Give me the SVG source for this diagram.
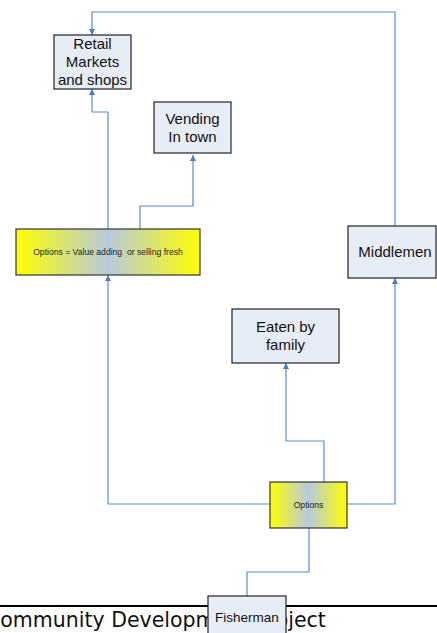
<svg xmlns="http://www.w3.org/2000/svg" width="437" height="633" viewBox="0 0 437 633">
<defs>
<linearGradient id="yg" x1="0" y1="0" x2="1" y2="0">
<stop offset="0" stop-color="#FFFF00"/>
<stop offset="0.5" stop-color="#B7C9DD"/>
<stop offset="1" stop-color="#FFFF00"/>
</linearGradient>
<marker id="arr" viewBox="0 0 10 10" refX="10" refY="5" markerWidth="6" markerHeight="6" orient="auto" markerUnits="userSpaceOnUse">
<path d="M0,0 L10,5 L0,10 z" fill="#4A7CCB"/>
</marker>
<style>
.box{fill:#E7EDF7;stroke:#222;stroke-width:1.2}
.ybox{fill:url(#yg);stroke:#333;stroke-width:1.2}
.t{font-family:"Liberation Sans",Arial,sans-serif;font-size:15px;fill:#111;text-anchor:middle}
.s{font-family:"Liberation Sans",Arial,sans-serif;font-size:8.6px;fill:#222;text-anchor:middle}
.c{fill:none;stroke:#5B8AD6;stroke-width:1.2}
</style>
</defs>
<rect width="437" height="633" fill="#fff"/>
<g id="footer">
<text x="-14" y="627" font-family="DejaVu Sans,sans-serif" font-size="20.5" fill="#111">Community Development Project</text>
<line x1="0" y1="606" x2="437" y2="606" stroke="#000" stroke-width="2"/>
</g>
<g id="connectors">
<path class="c" d="M395,226 V12 H92 V35" marker-end="url(#arr)"/>
<path class="c" d="M108,229 V112 H92 V89" marker-end="url(#arr)"/>
<path class="c" d="M140,229 V206 H193 V155" marker-end="url(#arr)"/>
<path class="c" d="M270,504 H108 V275" marker-end="url(#arr)"/>
<path class="c" d="M324,482 V441 H286 V363" marker-end="url(#arr)"/>
<path class="c" d="M347,504 H395 V278" marker-end="url(#arr)"/>
<path class="c" d="M247,596 V572 H309 V528"/>
</g>
<g id="retail">
<rect class="box" x="54" y="35" width="77" height="54"/>
<text class="t" x="92.5" y="49">Retail</text>
<text class="t" x="92.5" y="67">Markets</text>
<text class="t" x="92.5" y="85">and shops</text>
</g>
<g id="vending">
<rect class="box" x="154" y="102" width="77" height="51"/>
<text class="t" x="192.5" y="124">Vending</text>
<text class="t" x="192.5" y="142">In town</text>
</g>
<g id="options1">
<rect class="ybox" x="16" y="229" width="184" height="46"/>
<text class="s" x="108" y="255" xml:space="preserve">Options = Value adding  or selling fresh</text>
</g>
<g id="middlemen">
<rect class="box" x="348" y="226" width="88" height="52"/>
<text class="t" x="395" y="257">Middlemen</text>
</g>
<g id="eaten">
<rect class="box" x="232" y="309" width="107" height="54"/>
<text class="t" x="285.5" y="332">Eaten by</text>
<text class="t" x="285.5" y="350">family</text>
</g>
<g id="options2">
<rect class="ybox" x="270" y="482" width="77" height="46"/>
<text class="s" x="308.5" y="508">Options</text>
</g>
<g id="fisherman">
<rect class="box" x="208" y="596" width="78" height="45"/>
<text class="t" x="247" y="622" style="font-size:13.5px">Fisherman</text>
</g>
</svg>
